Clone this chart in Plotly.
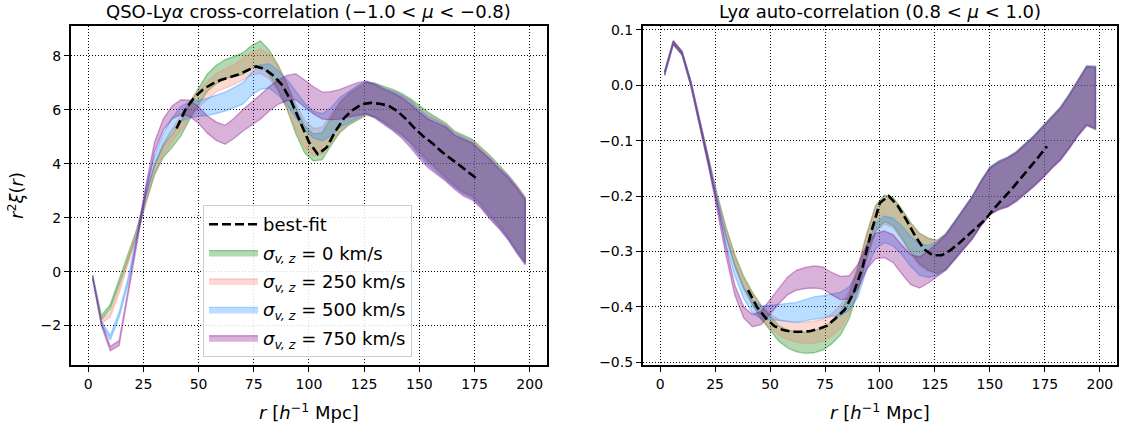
import plotly.graph_objects as go

# ---------------- data ----------------
R = [2, 6, 10, 14, 18, 22, 26, 30, 34, 38, 42, 46, 50, 54, 58, 62, 66, 70, 74, 78,
     82, 86, 90, 94, 98, 102, 106, 110, 114, 118, 122, 126, 130, 134, 138, 142, 146,
     150, 154, 158, 162, 166, 170, 174, 178, 182, 186, 190, 194, 198]

SIGMA_LABELS = ["0", "250", "500", "750"]

# left panel: QSO-Lya cross-correlation, r^2 xi
CROSS_S0 = [-0.2, -1.7, -1.3, -0.4, 0.5, 1.45, 2.65, 3.75, 4.45, 4.85, 5.3, 5.95, 6.5, 7.0, 7.3, 7.5, 7.6, 7.7,
            7.95, 8.1, 7.75, 7.2, 6.5, 5.6, 4.9, 4.6, 4.65, 5.2, 5.7, 6.0, 6.2, 6.4, 6.35, 6.2, 6.05, 5.85,
            5.6, 5.3, 5.0, 4.75, 4.5, 4.2, 4.0, 3.85, 3.55, 3.2, 2.85, 2.45, 2.0, 1.55]
CROSS_S250 = [-0.2, -1.85, -1.6, -0.7, 0.35, 1.45, 2.7, 3.8, 4.55, 5.05, 5.5, 6.0, 6.4, 6.7, 7.0, 7.15, 7.3, 7.5,
              7.7, 7.8, 7.6, 7.15, 6.5, 5.75, 5.1, 4.8, 4.85, 5.3, 5.75, 6.05, 6.25, 6.42, 6.35, 6.15, 6.0, 5.8,
              5.55, 5.2, 4.92, 4.7, 4.45, 4.15, 3.95, 3.8, 3.5, 3.15, 2.8, 2.45, 2.0, 1.55]
CROSS_S500 = [-0.2, -1.9, -2.45, -1.6, -0.35, 1.3, 2.9, 4.1, 4.9, 5.45, 5.85, 6.0, 6.05, 6.1, 6.2, 6.3, 6.45, 6.6,
              6.95, 7.2, 7.25, 7.0, 6.65, 6.2, 5.75, 5.45, 5.35, 5.55, 5.9, 6.1, 6.3, 6.45, 6.35, 6.15, 5.98, 5.78,
              5.52, 5.15, 4.85, 4.65, 4.4, 4.12, 3.92, 3.75, 3.45, 3.1, 2.75, 2.4, 1.95, 1.5]
CROSS_S750 = [-0.2, -1.95, -2.85, -2.65, -0.8, 1.1, 3.0, 4.6, 5.45, 5.9, 6.1, 6.05, 5.8, 5.45, 5.2, 5.07, 5.3, 5.6,
              5.85, 6.1, 6.4, 6.65, 6.8, 6.85, 6.6, 6.35, 6.15, 6.15, 6.2, 6.3, 6.4, 6.45, 6.3, 6.1, 5.92, 5.7,
              5.4, 5.05, 4.75, 4.55, 4.35, 4.05, 3.85, 3.7, 3.4, 3.05, 2.7, 2.35, 1.9, 1.45]
CROSS_ERR = [0.06, 0.07, 0.08, 0.09, 0.1, 0.12, 0.15, 0.18, 0.21, 0.24, 0.27, 0.3, 0.3, 0.32, 0.34, 0.35, 0.37,
             0.4, 0.42, 0.45, 0.45, 0.45, 0.47, 0.48, 0.5, 0.5, 0.5, 0.52, 0.55, 0.57, 0.6, 0.6, 0.62, 0.65, 0.7,
             0.75, 0.8, 0.85, 0.9, 0.95, 1.0, 1.0, 1.05, 1.05, 1.05, 1.1, 1.1, 1.15, 1.2, 1.2]

# right panel: Lya auto-correlation, r^2 xi
AUTO_S0 = [0.021, 0.077, 0.058, 0.003, -0.068, -0.138, -0.205, -0.265, -0.315, -0.355, -0.385, -0.41, -0.43,
           -0.448, -0.458, -0.463, -0.465, -0.463, -0.458, -0.447, -0.43, -0.4, -0.35, -0.29, -0.24, -0.222,
           -0.228, -0.25, -0.275, -0.295, -0.305, -0.31, -0.3, -0.28, -0.258, -0.238, -0.212, -0.19, -0.18,
           -0.174, -0.164, -0.15, -0.136, -0.12, -0.103, -0.087, -0.065, -0.04, -0.018, -0.022]
AUTO_S250 = [0.021, 0.077, 0.058, 0.003, -0.068, -0.138, -0.205, -0.265, -0.318, -0.358, -0.386, -0.41, -0.425,
             -0.437, -0.443, -0.446, -0.447, -0.446, -0.442, -0.433, -0.418, -0.392, -0.348, -0.29, -0.242,
             -0.226, -0.232, -0.253, -0.278, -0.297, -0.306, -0.31, -0.3, -0.28, -0.258, -0.238, -0.212, -0.19,
             -0.18, -0.174, -0.164, -0.15, -0.136, -0.12, -0.103, -0.087, -0.065, -0.04, -0.018, -0.022]
AUTO_S500 = [0.021, 0.077, 0.058, 0.003, -0.068, -0.138, -0.21, -0.28, -0.335, -0.375, -0.4, -0.41, -0.41, -0.41,
             -0.41, -0.41, -0.406, -0.402, -0.4, -0.397, -0.395, -0.385, -0.36, -0.31, -0.272, -0.26, -0.265,
             -0.28, -0.3, -0.315, -0.318, -0.313, -0.3, -0.28, -0.258, -0.238, -0.212, -0.19, -0.18, -0.174,
             -0.164, -0.15, -0.136, -0.12, -0.103, -0.087, -0.065, -0.04, -0.018, -0.022]
AUTO_S750 = [0.021, 0.077, 0.058, 0.003, -0.068, -0.14, -0.22, -0.3, -0.37, -0.41, -0.425, -0.42, -0.4, -0.38,
             -0.362, -0.352, -0.348, -0.346, -0.348, -0.358, -0.366, -0.365, -0.345, -0.31, -0.29, -0.287,
             -0.295, -0.315, -0.333, -0.338, -0.328, -0.315, -0.302, -0.282, -0.26, -0.24, -0.214, -0.192,
             -0.182, -0.176, -0.166, -0.152, -0.138, -0.122, -0.105, -0.089, -0.067, -0.042, -0.02, -0.024]
AUTO_ERR = [0.003, 0.003, 0.003, 0.004, 0.005, 0.006, 0.007, 0.008, 0.009, 0.01, 0.011, 0.012, 0.013, 0.014,
            0.016, 0.018, 0.019, 0.02, 0.02, 0.02, 0.021, 0.021, 0.022, 0.022, 0.023, 0.024, 0.025, 0.026,
            0.027, 0.028, 0.029, 0.03, 0.032, 0.034, 0.036, 0.038, 0.04, 0.042, 0.043, 0.044, 0.044, 0.045,
            0.045, 0.046, 0.046, 0.047, 0.048, 0.05, 0.053, 0.056]

# best-fit models
R_FIT = [40, 44, 48, 52, 56, 60, 64, 68, 72, 76, 80, 84, 88, 92, 96, 100, 104, 108, 112, 116, 120, 124, 128,
         132, 136, 140, 144, 148, 152, 156, 160, 164, 168, 172, 176]
CROSS_FIT = [5.3, 6.0, 6.45, 6.75, 6.95, 7.1, 7.2, 7.3, 7.45, 7.6, 7.5, 7.25, 6.9, 6.3, 5.55, 4.8, 4.35, 4.6,
             5.2, 5.7, 6.0, 6.2, 6.25, 6.22, 6.15, 5.95, 5.65, 5.3, 5.0, 4.75, 4.45, 4.2, 3.95, 3.7, 3.45]
AUTO_FIT = [-0.37, -0.40, -0.42, -0.435, -0.442, -0.445, -0.445, -0.444, -0.44, -0.434, -0.42, -0.405, -0.375,
            -0.33, -0.265, -0.212, -0.2, -0.217, -0.243, -0.272, -0.296, -0.307, -0.307, -0.298, -0.285,
            -0.271, -0.257, -0.242, -0.222, -0.205, -0.187, -0.168, -0.15, -0.13, -0.11]

# ---------------- style ----------------
BASE = [(0, 128, 0), (250, 128, 114), (30, 144, 255), (128, 0, 128)]
FONT = "DejaVu Sans"

fig = go.Figure()

panels = [
    ("x", "y", [CROSS_S0, CROSS_S250, CROSS_S500, CROSS_S750], CROSS_ERR, CROSS_FIT, True),
    ("x2", "y2", [AUTO_S0, AUTO_S250, AUTO_S500, AUTO_S750], AUTO_ERR, AUTO_FIT, False),
]

for xa, ya, series, err, fit, legend in panels:
    for i, (vals, lab) in enumerate(zip(series, SIGMA_LABELS)):
        upper = [v + e for v, e in zip(vals, err)]
        lower = [v - e for v, e in zip(vals, err)]
        r, g, b = BASE[i]
        fig.add_trace(go.Scatter(
            x=R + R[::-1], y=upper + lower[::-1],
            xaxis=xa, yaxis=ya, mode="lines", fill="toself",
            fillcolor=f"rgba({r},{g},{b},0.3)",
            line=dict(color=f"rgba({r},{g},{b},0.35)", width=1.4),
            name=f"<i>σ<sub>v, z</sub></i> = {lab} km/s",
            legendgroup=(f"g{i}" if legend else None),
            showlegend=legend, legendrank=10 + i, hoverinfo="skip"))
    fig.add_trace(go.Scatter(
        x=R_FIT, y=fit, xaxis=xa, yaxis=ya, mode="lines",
        line=dict(color="black", width=2.6, dash="9px,4px"),
        name="best-fit", legendgroup=("fit" if legend else None),
        showlegend=legend, legendrank=1))

axis_common = dict(
    showgrid=True, gridcolor="black", griddash="1px,2px", gridwidth=1,
    showline=True, linecolor="black", linewidth=2, mirror=True,
    ticks="outside", ticklen=5, tickwidth=1.3, tickcolor="black",
    zeroline=False, automargin=False,
    tickfont=dict(size=14, color="black", family=FONT),
)
xtitle = dict(text="<i>r</i> [<i>h</i><sup>−1</sup> Mpc]", font=dict(size=18, color="black", family=FONT), standoff=16)

fig.update_layout(
    width=1123, height=427,
    margin=dict(l=71, r=6, t=26, b=62),
    paper_bgcolor="white", plot_bgcolor="white",
    font=dict(family=FONT, color="black"),
    xaxis=dict(domain=[0, 0.455], range=[-7.8, 207.8], tickvals=[0, 25, 50, 75, 100, 125, 150, 175, 200],
               title=xtitle, anchor="y", **axis_common),
    yaxis=dict(domain=[0, 1], range=[-3.46, 9.1], tickvals=[-2, 0, 2, 4, 6, 8], anchor="x",
               title=dict(text="<i>r</i><sup>2</sup><i>ξ</i>(<i>r</i>)", font=dict(size=18, color="black", family=FONT), standoff=12),
               **axis_common),
    xaxis2=dict(domain=[0.5468, 1], range=[-7.8, 207.8], tickvals=[0, 25, 50, 75, 100, 125, 150, 175, 200],
                title=xtitle, anchor="y2", **axis_common),
    yaxis2=dict(domain=[0, 1], range=[-0.505, 0.107], tickvals=[-0.5, -0.4, -0.3, -0.2, -0.1, 0.0, 0.1],
                tickformat=".1f", anchor="x2", **axis_common),
    legend=dict(x=0.1262, y=0.472, xanchor="left", yanchor="top",
                bgcolor="rgba(255,255,255,0.85)", bordercolor="#cccccc", borderwidth=1,
                itemwidth=49, tracegroupgap=2,
                font=dict(size=18, color="black", family=FONT)),
    annotations=[
        dict(text="QSO-Ly<i>α</i> cross-correlation (−1.0 < <i>μ</i> < −0.8)", xref="x domain", yref="y domain",
             x=0.5, y=1.0, xanchor="center", yanchor="bottom", yshift=2, showarrow=False,
             font=dict(size=18, color="black", family=FONT)),
        dict(text="Ly<i>α</i> auto-correlation (0.8 < <i>μ</i> < 1.0)", xref="x2 domain", yref="y2 domain",
             x=0.5, y=1.0, xanchor="center", yanchor="bottom", yshift=2, showarrow=False,
             font=dict(size=18, color="black", family=FONT)),
    ],
)

# remove the default page margin so the figure sits at the window's top-left corner
fig.write_html("out.html", config={"displayModeBar": False},
               post_script="document.body.style.margin='0';")
